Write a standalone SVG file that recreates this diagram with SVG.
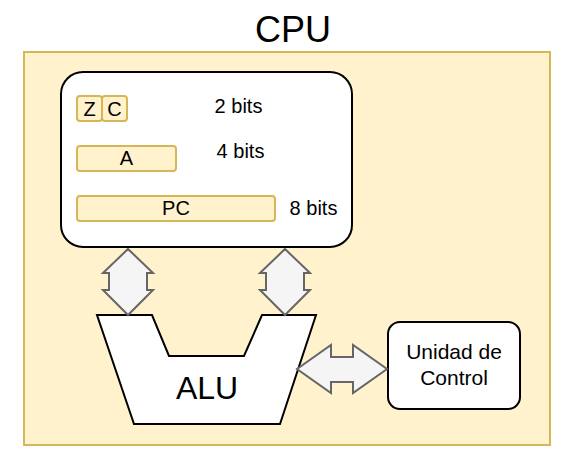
<svg xmlns="http://www.w3.org/2000/svg" width="578" height="454" viewBox="0 0 578 454">
<style>
text{font-family:"Liberation Sans",Arial,sans-serif;fill:#000;text-anchor:middle}
.reg{fill:#fff2cc;stroke:#d6b656;stroke-width:2}
.box{fill:#fff;stroke:#000;stroke-width:2}
.arr{fill:#f5f5f5;stroke:#666;stroke-width:2;stroke-linejoin:miter}
.t20{font-size:20px}
</style>
<rect width="578" height="454" fill="#fff"/>
<g id="cpu">
<rect x="24" y="52" width="526" height="393" fill="#fff2cc" stroke="#d6b656" stroke-width="2"/>
<text x="293" y="42" font-size="36">CPU</text>
</g>
<g id="registers">
<rect class="box" x="61" y="72" width="291" height="175" rx="22"/>
</g>
<g id="Z"><rect class="reg" x="77" y="96" width="25" height="25" rx="3"/><text class="t20" x="89.5" y="115.5">Z</text></g>
<g id="C"><rect class="reg" x="102" y="96" width="25" height="25" rx="3"/><text class="t20" x="114.5" y="115.5">C</text></g>
<g id="bits2"><text class="t20" x="238.5" y="113">2 bits</text></g>
<g id="A"><rect class="reg" x="77" y="146" width="99" height="25" rx="3"/><text class="t20" x="126.5" y="165">A</text></g>
<g id="bits4"><text class="t20" x="240.5" y="158">4 bits</text></g>
<g id="PC"><rect class="reg" x="77" y="196" width="198" height="25" rx="3"/><text class="t20" x="176" y="215">PC</text></g>
<g id="bits8"><text class="t20" x="313.5" y="215">8 bits</text></g>
<g id="alu">
<polygon class="box" points="97,315 152,315 169,356 244,356 262,315 316,315 280,424 134,424"/>
<text x="207" y="399" font-size="32">ALU</text>
</g>
<g id="control">
<rect class="box" x="388" y="322" width="132" height="87" rx="12"/>
<text x="454" y="359" font-size="21">Unidad de</text>
<text x="454" y="385" font-size="21">Control</text>
</g>
<g id="connectors">
<polygon class="arr" points="128,249 153,273 147,273 147,290 153,290 128,315 103,290 109,290 109,273 103,273"/>
<polygon class="arr" points="285,249 310,273 304,273 304,290 310,290 285,315 260,290 266,290 266,273 260,273"/>
<polygon class="arr" points="297,369 331,345 331,357 353,357 353,345 387,369 353,393 353,382 331,382 331,393"/>
</g>
</svg>
